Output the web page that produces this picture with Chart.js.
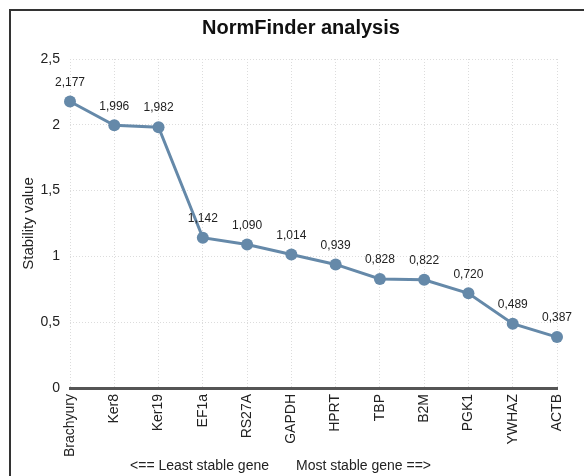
<!DOCTYPE html>
<html>
<head>
<meta charset="utf-8">
<script src="https://cdn.jsdelivr.net/npm/chart.js@4/dist/chart.umd.min.js"></script>
<style>
  html, body { margin: 0; padding: 0; background: #fff; }
  #wrap { position: absolute; left: 0; top: 0; width: 584px; height: 476px; }
</style>
</head>
<body>
<div id="wrap"><canvas id="c" width="584" height="476"></canvas></div>
<script>
const genes = ["Brachyury", "Ker8", "Ker19", "EF1a", "RS27A", "GAPDH", "HPRT", "TBP", "B2M", "PGK1", "YWHAZ", "ACTB"];
const stability = [2.177, 1.996, 1.982, 1.142, 1.090, 1.014, 0.939, 0.828, 0.822, 0.720, 0.489, 0.387];
const yTicks = [0, 0.5, 1, 1.5, 2, 2.5];
const chartTitle = "NormFinder analysis";
const yTitle = "Stability value";
const leftNote = "<== Least stable gene";
const rightNote = "Most stable gene ==>";

const FONT = "'Liberation Sans', Arial, Helvetica, sans-serif";
const LINE = "#6589a9";
const fmt = v => v.toFixed(3).replace('.', ',');
const fmtTick = v => String(v).replace('.', ',');

const decor = {
  id: 'decor',
  beforeDraw(chart) {
    const ctx = chart.ctx;
    ctx.save();
    ctx.fillStyle = '#fff';
    ctx.fillRect(0, 0, chart.width, chart.height);
    ctx.strokeStyle = '#333';
    ctx.lineWidth = 2;
    ctx.beginPath();
    ctx.moveTo(10, chart.height);
    ctx.lineTo(10, 10);
    ctx.lineTo(chart.width, 10);
    ctx.stroke();
    ctx.restore();
  },
  afterDraw(chart) {
    const ctx = chart.ctx;
    ctx.save();
    ctx.fillStyle = '#111';
    ctx.font = "bold 20px " + FONT;
    ctx.textAlign = 'center';
    ctx.textBaseline = 'middle';
    ctx.fillText(chartTitle, 301, 28);
    ctx.font = "14px " + FONT;
    ctx.fillStyle = '#222';
    ctx.textAlign = 'right';
    ctx.fillText(leftNote, 269, 466);
    ctx.textAlign = 'left';
    ctx.fillText(rightNote, 296, 466);
    // data labels
    const meta = chart.getDatasetMeta(0);
    ctx.font = "12px " + FONT;
    ctx.textAlign = 'center';
    ctx.textBaseline = 'middle';
    meta.data.forEach((pt, i) => {
      ctx.fillText(fmt(stability[i]), pt.x, pt.y - 19);
    });
    ctx.restore();
  }
};

new Chart(document.getElementById('c'), {
  type: 'line',
  data: {
    labels: genes,
    datasets: [{
      data: stability,
      borderColor: LINE,
      backgroundColor: LINE,
      borderWidth: 3,
      pointRadius: 6,
      pointHoverRadius: 6,
      pointBackgroundColor: LINE,
      pointBorderColor: LINE,
      pointBorderWidth: 0,
      tension: 0,
      fill: false
    }]
  },
  options: {
    responsive: false,
    animation: false,
    events: [],
    layout: { padding: { left: 0, right: 27, top: 59, bottom: 0 } },
    plugins: {
      legend: { display: false },
      title: { display: false },
      tooltip: { enabled: false }
    },
    scales: {
      x: {
        type: 'category',
        offset: false,
        grid: { display: true, color: '#dcdcdc', lineWidth: 1, drawTicks: false },
        border: { display: true, color: '#555', width: 3, dash: [1, 2] },
        ticks: {
          color: '#222',
          font: { family: FONT, size: 14 },
          maxRotation: 90, minRotation: 90,
          autoSkip: false,
          padding: 6
        },
        afterFit(scale) { scale.height = 88; }
      },
      y: {
        min: 0, max: 2.5,
        afterBuildTicks(scale) { scale.ticks = yTicks.map(v => ({ value: v })); },
        grid: { display: true, color: '#dcdcdc', lineWidth: 1, drawTicks: false },
        border: { display: false, dash: [1, 2] },
        ticks: {
          color: '#222',
          font: { family: FONT, size: 14 },
          padding: 10,
          callback: v => fmtTick(v)
        },
        title: {
          display: true,
          text: yTitle,
          color: '#222',
          font: { family: FONT, size: 15 },
          padding: { top: 20, bottom: 0 }
        },
        afterFit(scale) { scale.width = 70; }
      }
    }
  },
  plugins: [decor]
});
</script>
</body>
</html>
